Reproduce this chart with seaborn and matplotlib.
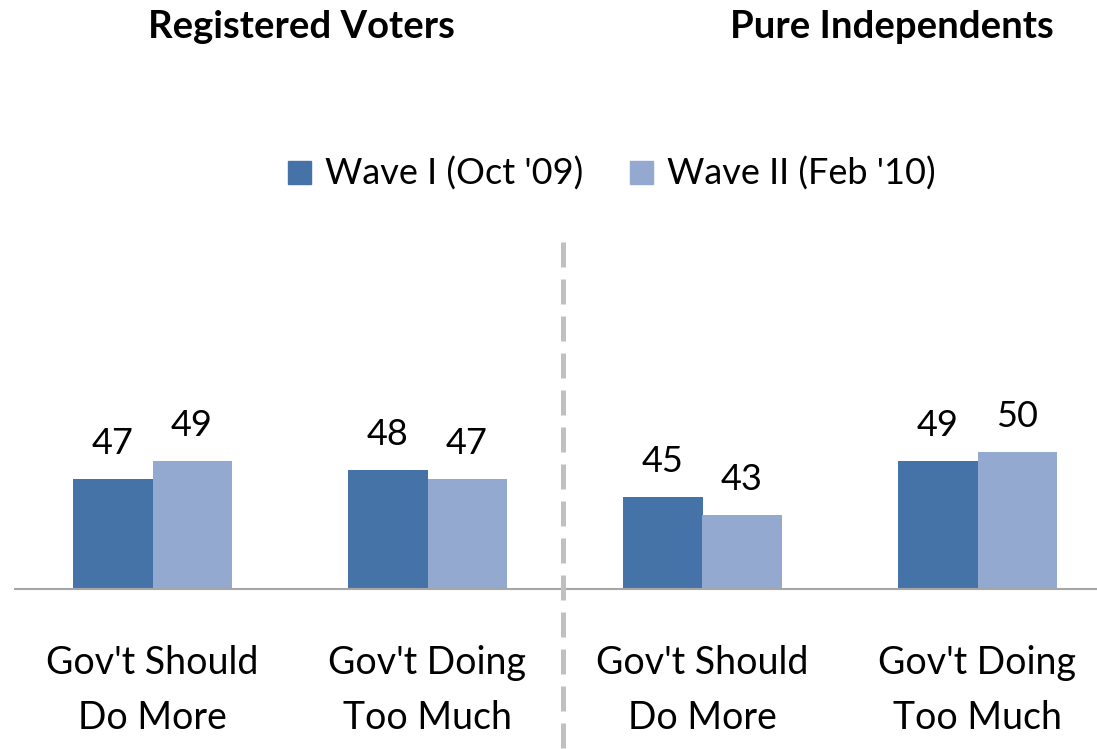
import matplotlib
matplotlib.use("Agg")
import matplotlib.pyplot as plt
import seaborn as sns
import pandas as pd
from matplotlib.lines import Line2D

sns.set_theme(style="white")
plt.rcParams['font.family'] = ['Lato', 'DejaVu Sans']
plt.rcParams['text.color'] = 'black'
plt.rcParams['xtick.color'] = 'black'

# ---- data ----
slots = ["RV_more", "RV_much", "PI_more", "PI_much"]
tick_labels = ["Gov't Should\nDo More", "Gov't Doing\nToo Much",
               "Gov't Should\nDo More", "Gov't Doing\nToo Much"]
series = ["Wave I (Oct '09)", "Wave II (Feb '10)"]
wave1 = [47, 48, 45, 49]
wave2 = [49, 47, 43, 50]
panel_titles = ["Registered Voters", "Pure Independents"]
colors = ["#4572A7", "#93A9CF"]

df = pd.DataFrame({
    "slot": slots * 2,
    "series": [series[0]] * 4 + [series[1]] * 4,
    "value": wave1 + wave2,
})

W, H = 1097, 749
fig = plt.figure(figsize=(W / 100, H / 100), dpi=100)
ax_left, ax_bottom, ax_top = 15, 589, 200
ax = fig.add_axes([ax_left / W, 1 - ax_bottom / H, 1100 / W, (ax_bottom - ax_top) / H])

sns.barplot(data=df, x="slot", y="value", hue="series", order=slots,
            hue_order=series, palette=colors, width=0.575, saturation=1,
            ax=ax, legend=False)
for p in ax.patches:
    p.set_edgecolor("none")

ymin = 34.8
ax.set_ylim(ymin, ymin + (ax_bottom - ax_top) / 9.0)
ax.set_xlim(-0.5, 3.5)

for c in ax.containers:
    ax.bar_label(c, labels=[f"{v:.0f}" for v in c.datavalues], padding=14,
                 fontsize=26, color="black")

# axes styling
for s in ["top", "right", "left"]:
    ax.spines[s].set_visible(False)
ax.spines["bottom"].set_color("#A6A6A6")
ax.spines["bottom"].set_linewidth(1.5)
ax.set_yticks([])
ax.set_ylabel("")
ax.set_xlabel("")
ax.set_xticks(range(4))
ax.set_xticklabels(tick_labels, fontsize=27, linespacing=1.67, color="black")
ax.tick_params(axis="x", which="major", length=0, pad=40)
ax.set_xticks([-0.5, 0.5, 1.5, 2.5, 3.5], minor=True)
ax.tick_params(axis="x", which="minor", length=9.5, width=1.0, color="#A6A6A6")

# legend
handles = [plt.Rectangle((0, 0), 1, 1, color=c) for c in colors]
leg = fig.legend(handles, series, loc="center", bbox_to_anchor=(612 / W, 1 - 174 / H),
                 ncol=2, frameon=False, fontsize=26, handlelength=0.62,
                 handleheight=0.62, handletextpad=0.4, columnspacing=1.3)
for t in leg.get_texts():
    t.set_color("black")

# panel titles
fig.text(301 / W, 1 - 27 / H, panel_titles[0], ha="center", va="center",
         fontsize=27.5, fontweight="bold", color="black")
fig.text(892 / W, 1 - 27 / H, panel_titles[1], ha="center", va="center",
         fontsize=27.5, fontweight="bold", color="black")

# dashed separator
fig.add_artist(Line2D([563 / W, 563 / W], [1 - 242 / H, 0], transform=fig.transFigure,
                      color="#C0C0C0", linewidth=3.6, dashes=(5, 2.4),
                      solid_capstyle="butt", dash_capstyle="butt"))

fig.savefig("out.png", dpi=100)
